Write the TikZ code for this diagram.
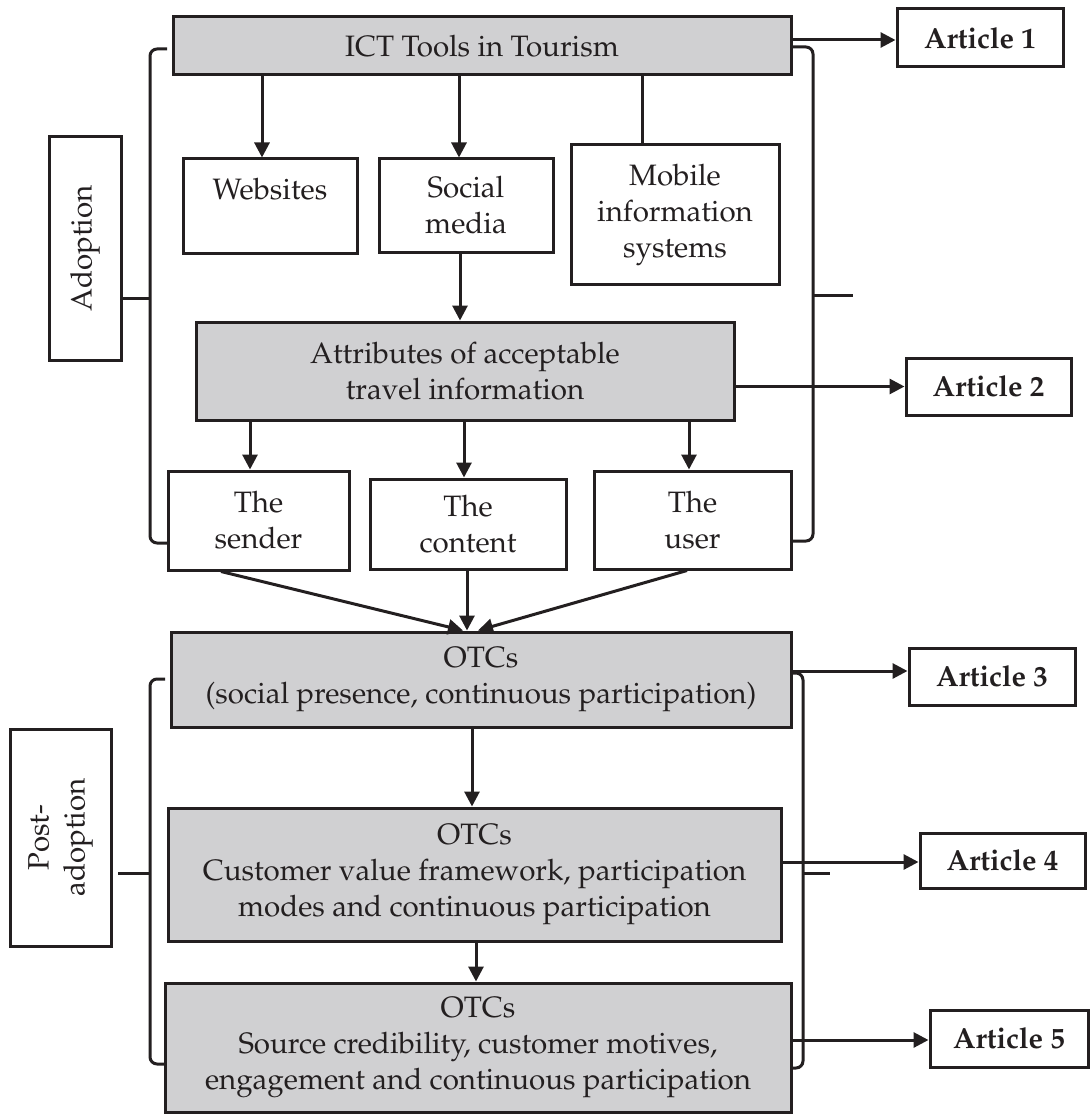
\documentclass[tikz,border=0pt]{standalone}
\usepackage[T1]{fontenc}
\usepackage{mathpazo}
\usetikzlibrary{arrows.meta}
\definecolor{ink}{RGB}{35,31,32}
\definecolor{boxgray}{RGB}{208,208,210}
\begin{document}
\begin{tikzpicture}[x=1pt,y=-1pt,
  base/.style={draw=ink, line width=3pt, inner sep=0pt, align=center, text=ink,
    font=\fontsize{29.5}{36}\selectfont},
  wbox/.style={base, fill=white},
  gbox/.style={base, fill=boxgray},
  abox/.style={base, fill=white, font=\fontsize{29}{36}\selectfont\bfseries},
  arr/.style={draw=ink, line width=3pt, -{Triangle[width=15pt,length=15pt]}},
  link/.style={draw=ink, line width=3pt},
  brace/.style={draw=ink, line width=3pt, rounded corners=7pt}]
\useasboundingbox (0,0) rectangle (1089,1115);

% main boxes
\node[gbox, minimum width=618pt, minimum height=58pt] (ict) at (482,46) {ICT Tools in Tourism};
\node[wbox, minimum width=174pt, text height=41pt, text depth=53pt] (web) at (270,206) {Websites};
\node[wbox, minimum width=174pt, minimum height=93pt] (soc) at (466,205.5) {Social\\media};
\node[wbox, minimum width=208pt, minimum height=139pt] (mob) at (675,214.5) {Mobile\\information\\systems};
\node[gbox, minimum width=538pt, minimum height=98pt] (attr) at (465,371) {Attributes of acceptable\\travel information};
\node[wbox, minimum width=181pt, minimum height=99pt] (send) at (258.5,520.5) {The\\sender};
\node[wbox, minimum width=196pt, minimum height=90pt] (cont) at (468,524) {The\\content};
\node[wbox, minimum width=197pt, minimum height=98pt] (user) at (692.5,520) {The\\user};
\node[gbox, minimum width=620pt, minimum height=95pt] (otc1) at (481,679.5) {OTCs\\(social presence, continuous participation)};
\node[gbox, minimum width=613pt, minimum height=133pt] (otc2) at (474.5,874.5) {OTCs\\Customer value framework, participation\\modes and continuous participation};
\node[gbox, minimum width=626pt, minimum height=129pt] (otc3) at (478,1047.5) {OTCs\\Source credibility, customer motives,\\engagement and continuous participation};

% article boxes
\node[abox, minimum width=166pt, minimum height=58pt] (a1) at (980,38) {Article 1};
\node[abox, minimum width=165pt, minimum height=57pt] (a2) at (988.5,386.5) {Article 2};
\node[abox, minimum width=166pt, minimum height=57pt] (a3) at (992,676.5) {Article 3};
\node[abox, minimum width=165pt, minimum height=55pt] (a4) at (1002.5,860.5) {Article 4};
\node[abox, minimum width=158pt, minimum height=57pt] (a5) at (1009,1038.5) {Article 5};

% phase labels
\node[wbox, rotate=90, minimum width=223pt, minimum height=72pt] (adopt) at (85,248.5) {Adoption};
\node[wbox, rotate=90, minimum width=217pt, minimum height=101pt] (post) at (60.5,837.5) {Post-\\adoption};

% arrows top
\draw[arr] (ict.south -| 262,0) -- (web.north -| 262,0);
\draw[arr] (ict.south -| 459,0) -- (soc.north -| 459,0);
\draw[link] (ict.south -| 642,0) -- (mob.north -| 642,0);
\draw[arr] (soc.south -| 460,0) -- (attr.north -| 460,0);
\draw[arr] (ict.east |- 0,40) -- (a1.west |- 0,40);
\draw[arr] (attr.east |- a2) -- (a2.west);
\draw[arr] (attr.south -| 250,0) -- (send.north -| 250,0);
\draw[arr] (attr.south -| 464,0) -- (cont.north -| 464,0);
\draw[arr] (attr.south -| 689,0) -- (user.north -| 689,0);

% converging arrows
\draw[arr] (send.south -| 221,0) -- (otc1.north -| 463,0);
\draw[arr] (cont.south -| 467,0) -- (otc1.north -| 467,0);
\draw[arr] (user.south -| 687,0) -- (otc1.north -| 478,0);

% lower arrows
\draw[arr] (otc1.east |- 0,671) -- (a3.west |- 0,671);
\draw[arr] (otc1.south -| 472,0) -- (otc2.north -| 472,0);
\draw[arr] (otc2.east |- 0,862) -- (a4.west |- 0,862);
\draw[arr] (otc2.south -| 476,0) -- (otc3.north -| 476,0);
\draw[arr] (otc3.east |- 0,1040) -- (a5.west |- 0,1040);

% braces: adoption
\draw[brace] (167,49) -- (150,49) -- (150,543) -- (168,543);
\draw[link] (150,298) -- (121,298);
\draw[brace] (791,47) -- (813,47) -- (813,541) -- (792,541);
\draw[link] (813,295) -- (853,295);

% braces: post-adoption
\draw[brace] (165,679) -- (150,679) -- (150,1064) -- (164,1064);
\draw[link] (150,873) -- (118,873);
\draw[brace] (791,673) -- (803,673) -- (803,1068) -- (791,1068);
\draw[link] (803,873) -- (830,873);
\end{tikzpicture}
\end{document}
